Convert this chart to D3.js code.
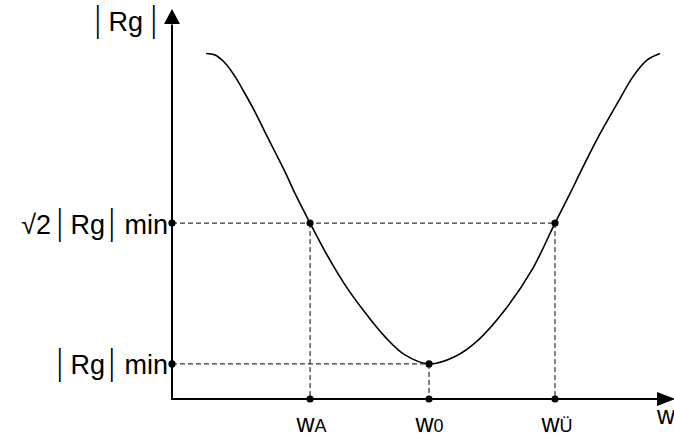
<!DOCTYPE html>
<html>
<head>
<meta charset="utf-8">
<script src="https://cdn.jsdelivr.net/npm/d3@7"></script>
<style>
  body { margin: 0; background: #fff; }
  text { font-family: "Liberation Sans", Arial, sans-serif; fill: #000; }
</style>
</head>
<body>
<div id="chart"></div>
<script>
var svgWidth = 674;
var svgHeight = 439;

// curve |Rg|(w) (arbitrary units, 0..100 on both axes)
var curveW  = [6.8, 8.6, 10.6, 12.6, 14.5, 16.5, 18.5, 20.5, 22.5, 24.5, 27.5, 30.5, 34.5, 38.5, 42.4, 46.4, 51.2,
               56.4, 61.0, 66.3, 71.7, 76.3, 79.3, 81.9, 85.3, 88.7, 91.8, 94.6, 97.2];
var curveRg = [88.6, 88.2, 86.1, 82.6, 78.4, 73.7, 68.5, 63.4, 58.3, 52.7, 45.1, 37.8, 29.2, 22.1, 16.0, 11.3, 9.0,
               10.9, 15.1, 22.8, 33.1, 45.1, 52.7, 59.6, 68.1, 75.8, 82.6, 86.9, 88.6];

// marked frequencies and levels
var wTicks = [27.5, 51.2, 76.3];
var wMain = ["w", "w", "w"];
var wSub = ["A", "0", "Ü"];
var rgMin = 9.0;
var rgSqrt2 = 45.1;
var rgTicks = [rgSqrt2, rgMin];
var rgLabels = [["√2", "|", "Rg", "|", "min"], ["|", "Rg", "|", "min"]];
var rgTitle = ["|", "Rg", "|"];

var margin = { top: 9, right: 0, bottom: 40, left: 172 };
var fontSize = 27;
var barSize = 34;

var svg = d3.select("#chart")
  .append("svg")
  .attr("width", svgWidth)
  .attr("height", svgHeight);

var xScale = d3.scaleLinear()
  .domain([0, 100])
  .range([margin.left, svgWidth - margin.right]);

var yScale = d3.scaleLinear()
  .domain([0, 100])
  .range([svgHeight - margin.bottom, margin.top]);

var x0 = xScale(0), y0 = yScale(0);

// dashed guide lines
var guides = svg.append("g")
  .attr("stroke", "#000")
  .attr("stroke-width", 1)
  .attr("stroke-dasharray", "5,3")
  .attr("fill", "none");

guides.append("line")
  .attr("x1", x0).attr("x2", xScale(wTicks[2]))
  .attr("y1", yScale(rgSqrt2)).attr("y2", yScale(rgSqrt2));
guides.append("line")
  .attr("x1", x0).attr("x2", xScale(wTicks[1]))
  .attr("y1", yScale(rgMin)).attr("y2", yScale(rgMin));
[[wTicks[0], rgSqrt2], [wTicks[1], rgMin], [wTicks[2], rgSqrt2]].forEach(function(p) {
  guides.append("line")
    .attr("x1", xScale(p[0])).attr("x2", xScale(p[0]))
    .attr("y1", yScale(p[1])).attr("y2", y0);
});

// axes (no ticks, labels added by hand)
var bottomAxis = d3.axisBottom(xScale).tickValues(wTicks).tickSize(0).tickFormat("");
var leftAxis = d3.axisLeft(yScale).tickValues(rgTicks).tickSize(0).tickFormat("");

var xAxis = svg.append("g")
  .attr("transform", `translate(0, ${y0})`)
  .call(bottomAxis);
var yAxis = svg.append("g")
  .attr("transform", `translate(${x0}, 0)`)
  .call(leftAxis);
xAxis.select(".domain").remove();
yAxis.select(".domain").remove();

// axis lines with arrow heads
svg.append("line")
  .attr("x1", x0).attr("x2", xScale(97))
  .attr("y1", y0).attr("y2", y0)
  .attr("stroke", "#000").attr("stroke-width", 2);
svg.append("line")
  .attr("x1", x0).attr("x2", x0)
  .attr("y1", y0 + 1).attr("y2", yScale(96))
  .attr("stroke", "#000").attr("stroke-width", 2);

var xe = xScale(100);
svg.append("path")
  .attr("d", `M${xe + 1},${y0} L${xe - 17},${y0 - 7} L${xe - 17},${y0 + 7} Z`)
  .attr("fill", "#000");
var ye = yScale(100);
svg.append("path")
  .attr("d", `M${x0},${ye} L${x0 - 8},${ye + 15} L${x0 + 8},${ye + 15} Z`)
  .attr("fill", "#000");

// writes "|Rg|"-style labels: thin tall bars between normal words
function addParts(t, parts) {
  parts.forEach(function(part, i) {
    var isBar = part === "|";
    var gap = 0;
    if (i > 0) gap = isBar ? (parts[i - 1] === "Rg" ? 1 : 3) : (parts[i - 1] === "|" ? (part === "min" ? 7 : 5) : 0);
    t.append("tspan")
      .attr("dx", gap)
      .attr("font-size", isBar ? barSize : fontSize)
      .attr("font-family", isBar ? "'DejaVu Sans'" : null)
      .attr("font-weight", isBar ? 200 : null)
      .text(part);
  });
}

// x tick labels: w with smaller index
xAxis.selectAll(".tick").each(function(d, i) {
  var t = d3.select(this).append("text")
    .attr("x", -14)
    .attr("y", 33)
    .attr("text-anchor", "start")
    .attr("fill", "#000");
  t.append("tspan").attr("font-size", 25).text(wMain[i]);
  t.append("tspan").attr("font-size", 18).text(wSub[i]);
});

// y tick labels
yAxis.selectAll(".tick").each(function(d, i) {
  var t = d3.select(this).append("text")
    .attr("x", -4)
    .attr("y", 10)
    .attr("text-anchor", "end")
    .attr("fill", "#000")
    .attr("font-size", fontSize);
  addParts(t, rgLabels[i]);
});

// axis titles
var yTitle = svg.append("text")
  .attr("x", x0 - 80)
  .attr("y", 31)
  .attr("text-anchor", "start")
  .attr("font-size", fontSize);
addParts(yTitle, rgTitle);
yTitle.select("tspan:last-child").attr("dx", 5);

svg.append("text")
  .attr("x", xScale(96.6))
  .attr("y", y0 + 25)
  .attr("font-size", 25)
  .text("w");

// the curve
var curveData = curveW.map(function(w, i) { return { w: w, rg: curveRg[i] }; });

var line = d3.line()
  .x(d => xScale(d.w))
  .y(d => yScale(d.rg))
  .curve(d3.curveCatmullRom.alpha(0.5));

svg.append("path")
  .datum(curveData)
  .attr("d", line)
  .attr("fill", "none")
  .attr("stroke", "#000")
  .attr("stroke-width", 1.6);

// marked points
var dots = [
  [0, rgSqrt2], [0, rgMin],
  [wTicks[0], rgSqrt2], [wTicks[1], rgMin], [wTicks[2], rgSqrt2],
  [wTicks[0], 0], [wTicks[1], 0], [wTicks[2], 0]
];
svg.selectAll("circle")
  .data(dots)
  .enter()
  .append("circle")
  .attr("cx", d => xScale(d[0]))
  .attr("cy", d => yScale(d[1]))
  .attr("r", 3.6)
  .attr("fill", "#000");
</script>
</body>
</html>
